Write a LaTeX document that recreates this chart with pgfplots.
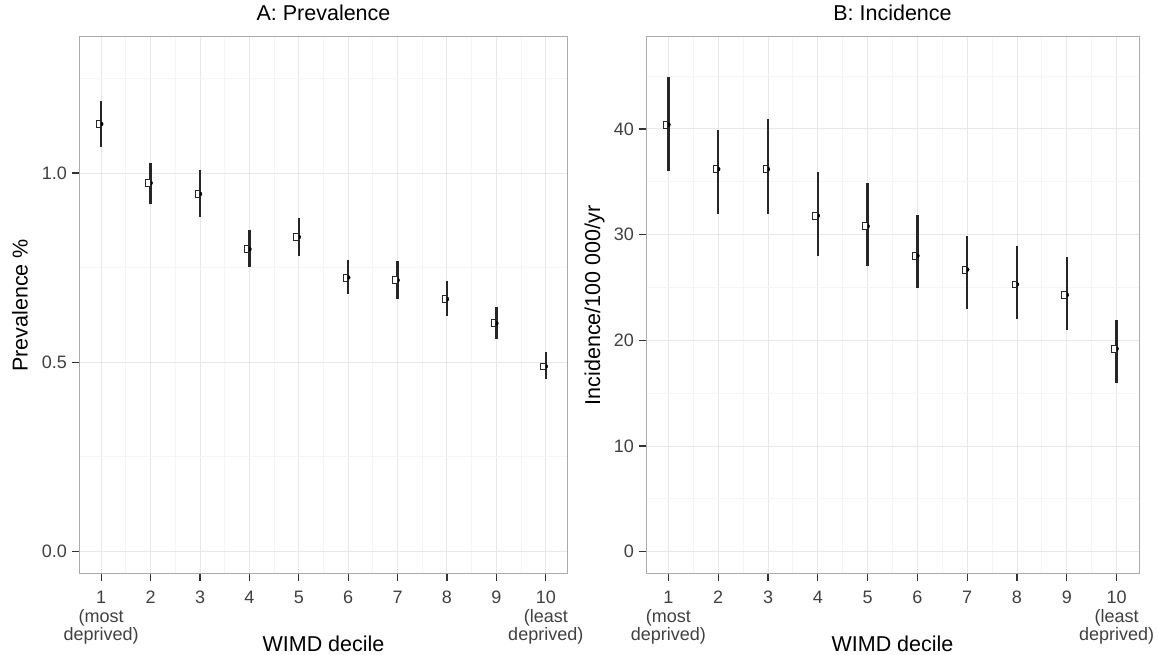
\documentclass[border=0pt]{standalone}
\usepackage{pgfplots}
\pgfplotsset{compat=1.18}
\usepackage{pgfplotstable}
\usepackage{fontspec}
\setmainfont{Liberation Sans}

\pgfdeclareplotmark{rect}{%
  \pgfpathrectangle{\pgfpoint{-2.2pt}{-3.4pt}}{\pgfpoint{4.4pt}{6.8pt}}%
  \pgfusepathqfillstroke}

\pgfplotstableread{
x y lo hi
1 1.130 1.068 1.192
2 0.974 0.918 1.027
3 0.945 0.884 1.007
4 0.799 0.752 0.850
5 0.831 0.782 0.882
6 0.724 0.680 0.771
7 0.717 0.666 0.768
8 0.667 0.622 0.715
9 0.603 0.562 0.645
10 0.489 0.455 0.526
}\tableA

\pgfplotstableread{
x y lo hi
1 40.4 36.0 44.9
2 36.2 32.0 39.9
3 36.2 32.0 40.9
4 31.8 28.0 35.9
5 30.8 27.0 34.9
6 28.0 25.0 31.9
7 26.7 23.0 29.9
8 25.3 22.0 28.9
9 24.3 21.0 27.9
10 19.2 16.0 21.9
}\tableB

\pgfplotsset{
  panel/.style={
    scale only axis,
    height=537pt,
    xmin=0.55, xmax=10.45,
    xtick={1,2,3,4,5,6,7,8,9,10},
    xticklabels={{1\\(most\\deprived)},2,3,4,5,6,7,8,9,{10\\(least\\deprived)}},
    minor xtick={1.5,2.5,3.5,4.5,5.5,6.5,7.5,8.5,9.5},
    grid=both,
    major grid style={draw=black!9, line width=1pt},
    minor grid style={draw=black!4, line width=1pt},
    axis line style={draw=black!33, line width=1pt},
    tick align=outside,
    major tick length=7pt,
    minor tick length=0pt,
    tick style={draw=black!80, line width=1.3pt},
    xtick pos=bottom, ytick pos=left,
    xticklabel style={font=\fontsize{18}{18.5}\selectfont, align=center, text=black!75, anchor=north, inner sep=0pt, yshift=-10pt},
    yticklabel style={font=\fontsize{18}{20}\selectfont, text=black!75, anchor=east, inner sep=0pt, xshift=-5pt},
    every axis title shift=0pt,
    title style={font=\fontsize{21.5}{24}\selectfont, anchor=base},
    label style={font=\fontsize{21.5}{24}\selectfont},
    xlabel style={at={(axis description cs:0.5,-0.1434)}, anchor=base},
    clip=false,
  },
  sq/.style={only marks, mark=rect, mark options={draw=black!85, fill=white, line width=0.8pt}},
  eb/.style={only marks, mark=none,
    error bars/.cd, y dir=both, y explicit, error mark=none,
    error bar style={draw=black!85, line width=2.3pt}},
}

\begin{document}
\begin{tikzpicture}[x=1pt,y=1pt]
\begin{axis}[panel,
  at={(79pt,81pt)}, anchor=south west,
  width=489pt,
  ymin=-0.06, ymax=1.36,
  ytick={0,0.5,1},
  yticklabels={0.0,0.5,1.0},
  minor ytick={0.25,0.75,1.25},
  title={A: Prevalence},
  title style={at={(axis description cs:0.5,1.0298)}},
  xlabel={WIMD decile},
  ylabel={Prevalence \%},
  ylabel style={at={(axis description cs:-0.1053,0.5)}, anchor=base},
]
\addplot[eb] table[x=x, y=y, y error plus expr=\thisrow{hi}-\thisrow{y}, y error minus expr=\thisrow{y}-\thisrow{lo}] {\tableA};
\addplot[sq] table[x expr=\thisrow{x}-0.055, y=y] {\tableA};
\end{axis}

\begin{axis}[panel,
  at={(646pt,81pt)}, anchor=south west,
  width=493pt,
  ymin=-2.1, ymax=48.7,
  ytick={0,10,20,30,40},
  yticklabels={0,10,20,30,40},
  minor ytick={5,15,25,35,45},
  title={B: Incidence},
  title style={at={(axis description cs:0.5,1.0298)}},
  xlabel={WIMD decile},
  ylabel={Incidence/100 000/yr},
  ylabel style={at={(axis description cs:-0.0933,0.5)}, anchor=base},
]
\addplot[eb] table[x=x, y=y, y error plus expr=\thisrow{hi}-\thisrow{y}, y error minus expr=\thisrow{y}-\thisrow{lo}] {\tableB};
\addplot[sq] table[x expr=\thisrow{x}-0.055, y=y] {\tableB};
\end{axis}
\pgfresetboundingbox
\useasboundingbox (0,0) rectangle (1158pt,655pt);
\end{tikzpicture}
\end{document}
